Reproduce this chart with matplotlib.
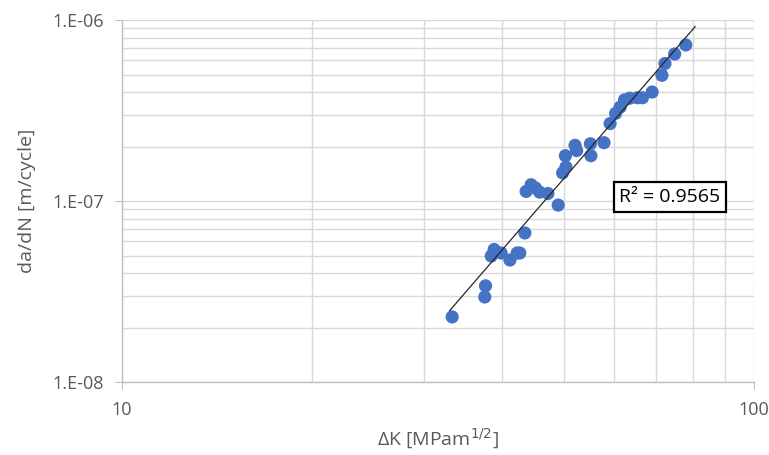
import numpy as np
import matplotlib.pyplot as plt
from matplotlib.ticker import LogLocator, FixedLocator, NullFormatter, FuncFormatter

# Données (ΔK en MPa·m^1/2, da/dN en m/cycle)
delta_k = [33.3, 37.5, 37.6, 38.4, 38.8, 39.8, 41.1, 42.2, 42.6, 43.4,
           43.6, 44.4, 45.1, 45.8, 47.2, 49.0, 49.8, 50.4, 50.3, 52.1,
           52.4, 55.2, 55.1, 57.9, 59.2, 60.4, 61.4, 62.4, 63.6, 65.4,
           66.6, 69.0, 71.5, 72.3, 74.9, 78.0]
da_dn = [2.29e-8, 2.95e-8, 3.40e-8, 4.97e-8, 5.40e-8, 5.16e-8, 4.72e-8, 5.16e-8, 5.16e-8, 6.66e-8,
         1.13e-7, 1.23e-7, 1.18e-7, 1.12e-7, 1.10e-7, 9.5e-8, 1.43e-7, 1.54e-7, 1.78e-7, 2.03e-7,
         1.90e-7, 1.78e-7, 2.07e-7, 2.10e-7, 2.68e-7, 3.05e-7, 3.30e-7, 3.62e-7, 3.70e-7, 3.72e-7,
         3.72e-7, 4.00e-7, 4.95e-7, 5.75e-7, 6.49e-7, 7.28e-7]
r2_text = "R² = 0.9565"
trend_range = [33.0, 80.7]

plt.rcParams['font.family'] = ['Open Sans', 'DejaVu Sans']

fig = plt.figure(figsize=(7.69, 4.55), dpi=100)
ax = fig.add_axes([0.1586, 0.1604, 0.8219, 0.7956])

ax.set_xscale('log')
ax.set_yscale('log')
ax.set_xlim(10, 100)
ax.set_ylim(1e-8, 1e-6)

ax.scatter(delta_k, da_dn, s=90, color='#4472C4', edgecolors='none', zorder=2)

# Courbe de tendance (loi de puissance, ajustée en log-log)
a, b = np.polyfit(np.log10(delta_k), np.log10(da_dn), 1)
xt = np.array(trend_range)
ax.plot(xt, 10**(a*np.log10(xt) + b), color='#262626', lw=0.9, zorder=3)

# Grilles
ax.xaxis.set_major_locator(FixedLocator([10, 100]))
ax.xaxis.set_minor_locator(LogLocator(base=10, subs=np.arange(2, 10)))
ax.yaxis.set_major_locator(FixedLocator([1e-8, 1e-7, 1e-6]))
ax.yaxis.set_minor_locator(LogLocator(base=10, subs=np.arange(2, 10)))
ax.xaxis.set_minor_formatter(NullFormatter())
ax.yaxis.set_minor_formatter(NullFormatter())
ax.xaxis.set_major_formatter(FuncFormatter(lambda v, p: "%d" % round(v)))
ax.yaxis.set_major_formatter(FuncFormatter(lambda v, p: "1.E-%02d" % round(-np.log10(v))))
ax.grid(True, which='both', color='#d9d9d9', lw=1.0, zorder=0)
ax.set_axisbelow(True)

for s in ['top', 'right']:
    ax.spines[s].set_visible(False)
for s in ['left', 'bottom']:
    ax.spines[s].set_color('#bfbfbf')
    ax.spines[s].set_linewidth(1.0)
ax.tick_params(which='major', length=5, color='#bfbfbf', labelsize=13, labelcolor='#595959')
ax.tick_params(which='minor', length=0)
ax.tick_params(axis='x', pad=9)
ax.tick_params(axis='y', pad=8)

ax.set_xlabel(r"ΔK [MPam$^{1/2}$]", fontsize=14, color='#595959', labelpad=5)
ax.set_ylabel("da/dN [m/cycle]", fontsize=14, color='#595959', labelpad=12)

ax.text(0.867, 0.511, r2_text, transform=ax.transAxes, ha='center', va='center',
        fontsize=14, color='black',
        bbox=dict(boxstyle='square,pad=0.3', fc='white', ec='black', lw=1.6))

fig.savefig('out.png', dpi=100)
